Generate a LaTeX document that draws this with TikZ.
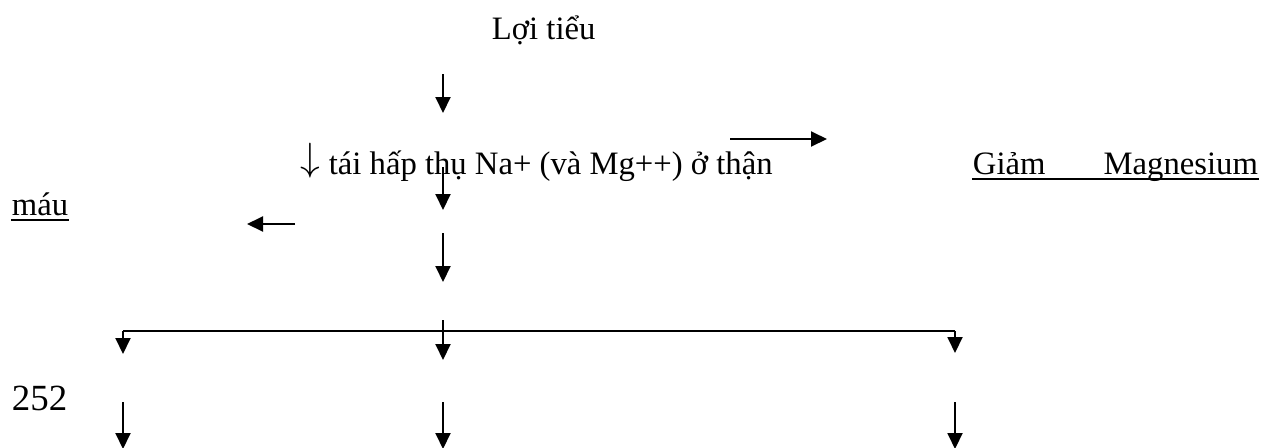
\documentclass[tikz,border=0pt]{standalone}
\usepackage{fontspec}
\usepackage{graphicx}
\setmainfont{Liberation Serif}
\usetikzlibrary{arrows.meta}

\begin{document}
\begin{tikzpicture}[x=0.02cm,y=-0.02cm,line width=1.1pt]
    \tikzset{txt/.style={inner sep=0pt,anchor=base west,font=\fontsize{18.6}{22}\selectfont},
      arr/.style={-{Triangle[length=0.32cm,width=0.3cm]}},
      uline/.style={line width=1.2pt}}
    \useasboundingbox (0,0) rectangle (1277,447);
    \node[txt] (loi) at (491,39) {Lợi tiểu};
    \node[txt] (taihap) at (300,174) {\raisebox{0.12em}{\scalebox{1.3}{$\downarrow$}} tái hấp thụ Na+ (và Mg++) ở thận};
    \node[txt] (giam) at (972,174) {\makebox[5.7cm][s]{Giảm Magnesium}};
    \node[txt] (mau) at (11,215) {máu};
    \node[txt,font=\fontsize{21}{24}\selectfont] (trang) at (11,410) {252};
    \draw[uline] ([yshift=-0.1cm]giam.base west) -- ([yshift=-0.1cm]giam.base east);
    \draw[uline] ([yshift=-0.1cm]mau.base west) -- ([yshift=-0.1cm]mau.base east);
    % free arrow ends
    \coordinate (m1) at (443,74);  \coordinate (m2) at (443,113);
    \coordinate (m3) at (443,167); \coordinate (m4) at (443,210);
    \coordinate (m5) at (443,233); \coordinate (m6) at (443,282);
    \coordinate (m7) at (443,320); \coordinate (m8) at (443,360);
    \coordinate (ra) at (730,139); \coordinate (rb) at (827,139);
    \coordinate (la) at (295,224); \coordinate (lb) at (247,224);
    \coordinate (hl) at (123,331); \coordinate (hr) at (955,331);
    \draw[arr] (m1) -- (m2);
    \draw[arr] (m3) -- (m4);
    \draw[arr] (m5) -- (m6);
    \draw[arr] (ra) -- (rb);
    \draw[arr] (la) -- (lb);
    \draw (hl) -- (hr);
    \draw[arr] (hl) -- ++(0,23);
    \draw[arr] (hr) -- ++(0,22);
    \draw[arr] (m7) -- (m8);
    \foreach \x/\n in {123/l,443/m,955/r} {
      \coordinate (top\n) at (\x,402);
      \coordinate (end\n) at (\x,449);
      \draw[arr] (top\n) -- (end\n);
    }
  \end{tikzpicture}
\end{document}
